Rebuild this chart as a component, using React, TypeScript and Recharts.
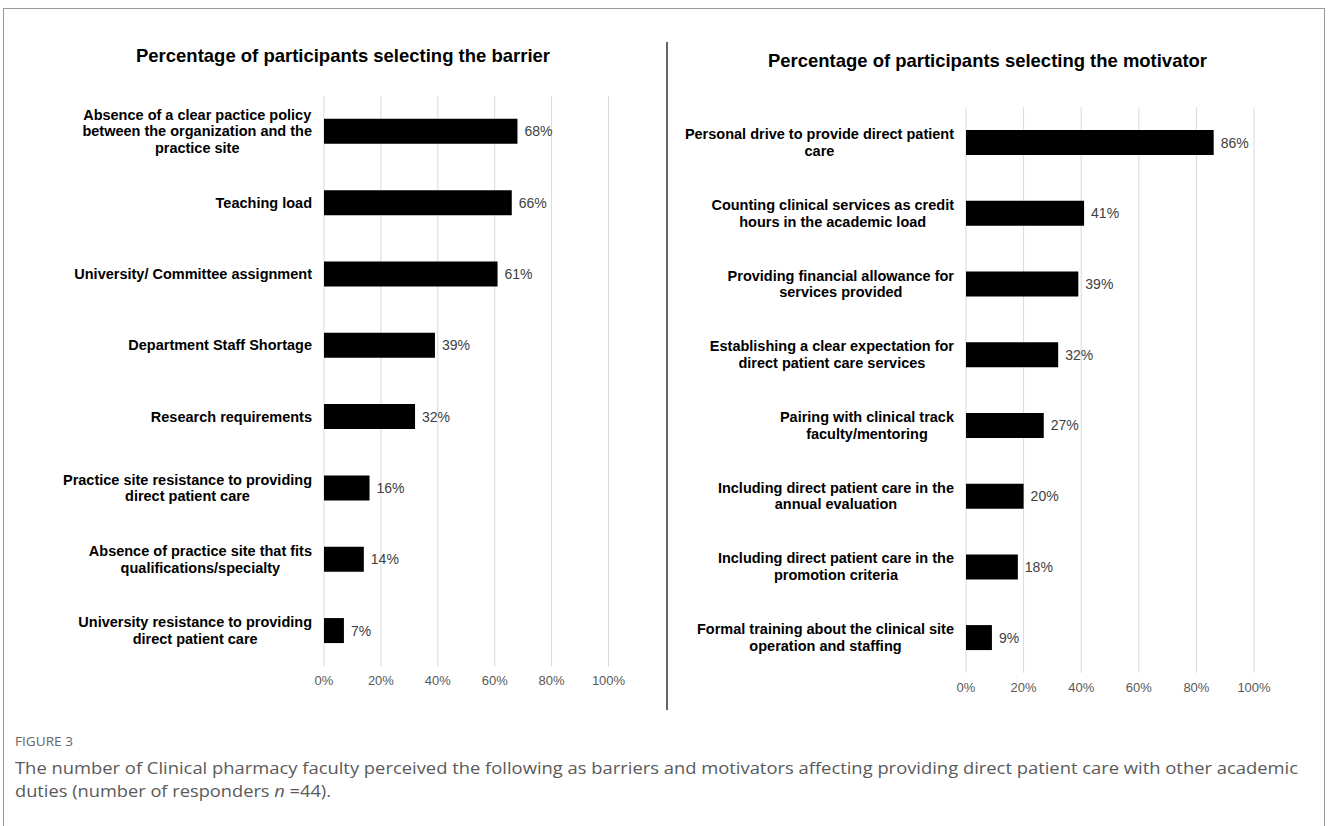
import { Bar, BarChart, CartesianGrid, LabelList, XAxis, YAxis } from "recharts";

const barrierLabels = [
  "Absence of a clear pactice policy\nbetween the organization and the\npractice site",
  "Teaching load",
  "University/ Committee assignment",
  "Department Staff Shortage",
  "Research requirements",
  "Practice site resistance to providing\ndirect patient care",
  "Absence of practice site that fits\nqualifications/specialty",
  "University resistance to providing\ndirect patient care",
];
const barrierValues = [68, 66, 61, 39, 32, 16, 14, 7];

const motivatorLabels = [
  "Personal drive to provide direct patient\ncare",
  "Counting clinical services as credit\nhours in the academic load",
  "Providing financial allowance for\nservices provided",
  "Establishing a clear expectation for\ndirect patient care services",
  "Pairing with clinical track\nfaculty/mentoring",
  "Including direct patient care in the\nannual evaluation",
  "Including direct patient care in the\npromotion criteria",
  "Formal training about the clinical site\noperation and staffing",
];
const motivatorValues = [86, 41, 39, 32, 27, 20, 18, 9];

const xTicks = [0, 20, 40, 60, 80, 100];

const FONT = "'Liberation Sans', Arial, sans-serif";
const CAPTION_FONT = "'Open Sans', sans-serif";
const LABEL_SIZE = 14.5;
const LINE_H = 16.7;

let ctx: CanvasRenderingContext2D | null = null;
function measure(s: string) {
  if (!ctx) ctx = document.createElement("canvas").getContext("2d");
  if (!ctx) return s.length * 7.4;
  ctx.font = `bold ${LABEL_SIZE}px ${FONT}`;
  return ctx.measureText(s).width;
}

function CategoryTick(props: any) {
  const { y, payload, rightEdge } = props;
  const lines = String(payload.value).split("\n");
  const w = Math.max(...lines.map(measure));
  const cx = rightEdge - w / 2;
  const y0 = y - ((lines.length - 1) * LINE_H) / 2 + 5;
  return (
    <text textAnchor="middle" fontFamily={FONT} fontWeight="bold" fontSize={LABEL_SIZE} fill="#000">
      {lines.map((l, i) => (
        <tspan key={i} x={cx} y={y0 + i * LINE_H}>
          {l}
        </tspan>
      ))}
    </text>
  );
}

type PanelProps = {
  labels: string[];
  values: number[];
  offsetX: number;
  plotLeft: number;
  plotRight: number;
  plotTop: number;
  plotBottom: number;
};

function Panel({ labels, values, offsetX, plotLeft, plotRight, plotTop, plotBottom }: PanelProps) {
  const data = labels.map((label, i) => ({ label, value: values[i] }));
  const W = 664;
  const H = 826;
  const xAxisH = 30;
  return (
    <div style={{ position: "absolute", left: offsetX, top: 0 }}>
      <BarChart
        width={W}
        height={H}
        data={data}
        layout="vertical"
        barCategoryGap={0}
        margin={{ top: plotTop, left: 0, right: W - plotRight, bottom: H - plotBottom - xAxisH }}
      >
        <CartesianGrid horizontal={false} stroke="#d9d9d9" />
        <XAxis
          type="number"
          domain={[0, 100]}
          ticks={xTicks}
          height={xAxisH}
          axisLine={false}
          tickLine={false}
          tick={(p: any) => (
            <text x={p.x} y={plotBottom + 19} textAnchor="middle" fontFamily={FONT} fontSize={13} fill="#595959">
              {`${p.payload.value}%`}
            </text>
          )}
        />
        <YAxis
          type="category"
          dataKey="label"
          width={plotLeft}
          axisLine={false}
          tickLine={false}
          interval={0}
          tick={(p: any) => <CategoryTick {...p} rightEdge={plotLeft - 12} />}
        />
        <Bar dataKey="value" fill="#000" barSize={25} isAnimationActive={false}>
          <LabelList
            dataKey="value"
            position="right"
            offset={7}
            fontFamily={FONT}
            fontSize={14}
            fill="#404040"
            formatter={(v: any) => `${v}%`}
          />
        </Bar>
      </BarChart>
    </div>
  );
}

export default function App() {
  return (
    <div style={{ position: "absolute", left: 0, top: 0, width: 1328, height: 826, background: "#fff", overflow: "hidden" }}>
      <svg width={1328} height={826} style={{ position: "absolute", left: 0, top: 0 }}>
        <rect x={3.5} y={8.5} width={1321} height={840} fill="none" stroke="#9a9a9a" />
        <line x1={667} y1={42} x2={667} y2={710} stroke="#333" strokeWidth={1.5} />
        <text x={343} y={62} textAnchor="middle" fontFamily={FONT} fontWeight="bold" fontSize={19} fill="#000" textLength={414} lengthAdjust="spacingAndGlyphs">
          Percentage of participants selecting the barrier
        </text>
        <text x={987.5} y={67} textAnchor="middle" fontFamily={FONT} fontWeight="bold" fontSize={19} fill="#000" textLength={439} lengthAdjust="spacingAndGlyphs">
          Percentage of participants selecting the motivator
        </text>
        <text x={15} y={746} fontFamily={CAPTION_FONT} fontSize={13} fill="#666" textLength={58} lengthAdjust="spacingAndGlyphs">
          FIGURE 3
        </text>
        <text x={15} y={774} fontFamily={CAPTION_FONT} fontSize={17.2} fill="#5a5a5a" textLength={1283} lengthAdjust="spacingAndGlyphs">
          The number of Clinical pharmacy faculty perceived the following as barriers and motivators affecting providing direct patient care with other academic
        </text>
        <text x={15} y={797} fontFamily={CAPTION_FONT} fontSize={17.2} fill="#5a5a5a" textLength={316} lengthAdjust="spacingAndGlyphs">
          duties (number of responders <tspan fontStyle="italic">n</tspan> =44).
        </text>
      </svg>
      <Panel
        labels={barrierLabels}
        values={barrierValues}
        offsetX={0}
        plotLeft={324}
        plotRight={608.5}
        plotTop={95.8}
        plotBottom={666.4}
      />
      <Panel
        labels={motivatorLabels}
        values={motivatorValues}
        offsetX={664}
        plotLeft={302}
        plotRight={590}
        plotTop={107.1}
        plotBottom={672.8}
      />
    </div>
  );
}
